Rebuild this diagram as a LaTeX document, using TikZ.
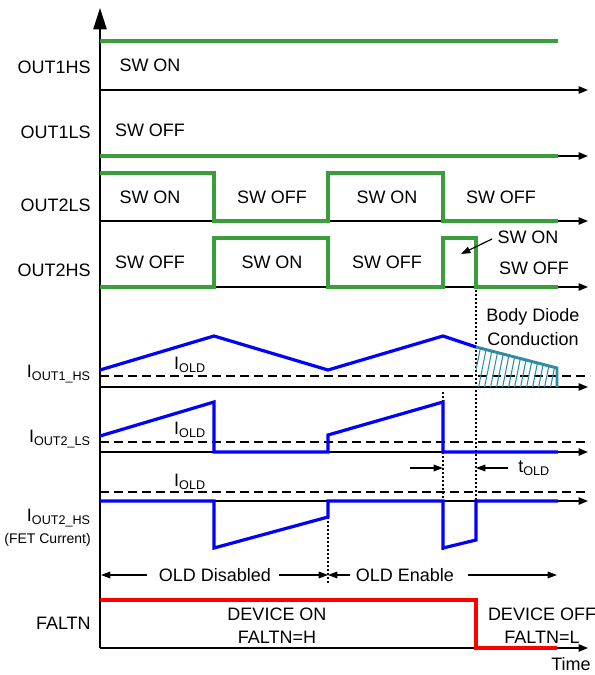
\documentclass[tikz,border=0pt]{standalone}
\usepackage{fontspec}
\setmainfont{Liberation Sans}
\usetikzlibrary{arrows.meta}
\definecolor{sgreen}{RGB}{58,158,58}
\definecolor{sblue}{RGB}{0,0,255}
\definecolor{sred}{RGB}{255,0,0}
\definecolor{steal}{RGB}{48,140,160}
\begin{document}
\begin{tikzpicture}[x=0.75pt,y=-0.75pt,
  font=\fontsize{13.5}{15}\selectfont,
  axis/.style={line width=1.1pt,-{Triangle[length=7pt,width=5.5pt]}},
  tip/.style={line width=0.9pt,-{Triangle[length=7pt,width=5pt]}},
  grn/.style={sgreen,line width=2.4pt,line join=miter},
  blu/.style={sblue,line width=2.4pt,line join=miter},
  red/.style={sred,line width=2.4pt,line join=miter},
  dsh/.style={line width=1.1pt,dash pattern=on 6.5pt off 4pt},
  dot/.style={line width=1pt,dash pattern=on 1.5pt off 1.5pt},
  lbl/.style={anchor=east,inner sep=0pt},
  txt/.style={inner sep=0pt}]
\useasboundingbox (0,0) rectangle (595,675);
% vertical axis
\coordinate (vb) at (100,648);
\coordinate (vt) at (100,8);
\draw[line width=1.1pt,-{Triangle[length=16pt,width=10pt]}] (vb) -- (vt);
% horizontal axes
\foreach \y in {90,156,221,287,387,452,501,648}
  \draw[axis] (100,\y) -- (588,\y);
% dashed I_OLD levels
\foreach \y in {376,442,492}
  \draw[dsh] (100,\y) -- (590,\y);
% dotted markers
\draw[dot] (476,290) -- (476,501);
\draw[dot] (443,392) -- (443,550);
\draw[dot] (328,517) -- (328,584);
% green waveforms
\draw[grn] (100,41) -- (558,41);
\draw[grn] (100,156) -- (558,156);
\draw[grn] (100,173) -- (214,173) -- (214,221) -- (328,221) -- (328,173) -- (443,173) -- (443,221) -- (558,221);
\draw[grn] (100,287) -- (214,287) -- (214,238) -- (328,238) -- (328,287) -- (443,287) -- (443,238) -- (476,238) -- (476,287) -- (558,287);
% hatch (body diode conduction)
\begin{scope}
  \clip (476,347) -- (557,368) -- (557,387) -- (476,387) -- cycle;
  \foreach \x in {472,478,...,562}
    \draw[steal,line width=0.8pt] (\x,390) -- (\x+9,345);
\end{scope}
\draw[steal,line width=2.2pt,line join=miter] (476,347) -- (557,368) -- (557,387);
% blue currents
\draw[blu] (100,370) -- (214,336) -- (328,370) -- (443,336) -- (476,347);
\draw[blu] (100,436) -- (214,402) -- (214,452) -- (328,452) -- (328,435) -- (443,402) -- (443,452) -- (558,452);
\draw[blu] (100,501) -- (214,501) -- (214,548) -- (328,517) -- (328,501) -- (443,501) -- (443,548) -- (476,540) -- (476,501) -- (558,501);
% red FALTN
\draw[red] (100,600) -- (476,600) -- (476,648) -- (557,648);
% left labels
\node[lbl] (l1) at (91,67) {OUT1HS};
\node[lbl] (l2) at (91,132) {OUT1LS};
\node[lbl] (l3) at (91,205) {OUT2LS};
\node[lbl] (l4) at (91,270) {OUT2HS};
\node[lbl] (l5) at (91,374) {I\textsubscript{OUT1\_HS}};
\node[lbl] (l6) at (91,439) {I\textsubscript{OUT2\_LS}};
\node[lbl] (l7) at (91,518) {I\textsubscript{OUT2\_HS}};
\node[lbl,font=\fontsize{10.5}{12}\selectfont] (l8) at (91,540) {(FET Current)};
\node[lbl] (l9) at (91,623) {FALTN};
% switch states
\node[txt] (s1) at (150,65) {SW ON};
\node[txt] (s2) at (150,130) {SW OFF};
\node[txt] (s3) at (150,197) {SW ON};
\node[txt] (s4) at (272,197) {SW OFF};
\node[txt] (s5) at (387,197) {SW ON};
\node[txt] (s6) at (501,197) {SW OFF};
\node[txt] (s7) at (150,262) {SW OFF};
\node[txt] (s8) at (272,262) {SW ON};
\node[txt] (s9) at (387,262) {SW OFF};
\node[txt] (s10) at (528,237) {SW ON};
\node[txt] (s11) at (534,268) {SW OFF};
\coordinate (s10a) at (492,239);
\coordinate (s10b) at (461,254);
\draw[tip] (s10a) -- (s10b);
% I_OLD labels
\node[txt] (o1) at (190,365) {I\textsubscript{OLD}};
\node[txt] (o2) at (190,430) {I\textsubscript{OLD}};
\node[txt] (o3) at (190,482) {I\textsubscript{OLD}};
% body diode
\node[txt] (bd1) at (533,317) {Body Diode};
\node[txt] (bd2) at (533,339) {Conduction};
% t_OLD
\coordinate (ta1) at (410,468);
\coordinate (ta2) at (443,468);
\coordinate (tb1) at (508,468);
\coordinate (tb2) at (476,468);
\draw[tip] (ta1) -- (ta2);
\draw[tip] (tb1) -- (tb2);
\node[txt,anchor=west] (tl) at (518,468) {t\textsubscript{OLD}};
% OLD disabled / enable
\node[txt] (od) at (215,575) {OLD Disabled};
\node[txt] (oe) at (405,575) {OLD Enable};
\coordinate (odl) at (101,575);
\coordinate (odr) at (328,575);
\coordinate (oer) at (557,575);
\draw[tip] ([xshift=-9pt]od.west) -- (odl);
\draw[tip] ([xshift=6pt]od.east) -- (odr);
\draw[tip] ([xshift=-4pt]oe.west) -- (odr);
\draw[tip] ([xshift=10pt]oe.east) -- (oer);
% device states
\node[txt] (d1) at (277,614) {DEVICE ON};
\node[txt] (d2) at (277,637) {FALTN=H};
\node[txt] (d3) at (542,614) {DEVICE OFF};
\node[txt] (d4) at (542,637) {FALTN=L};
\node[txt] (tm) at (571,664) {Time};
\end{tikzpicture}
\end{document}
